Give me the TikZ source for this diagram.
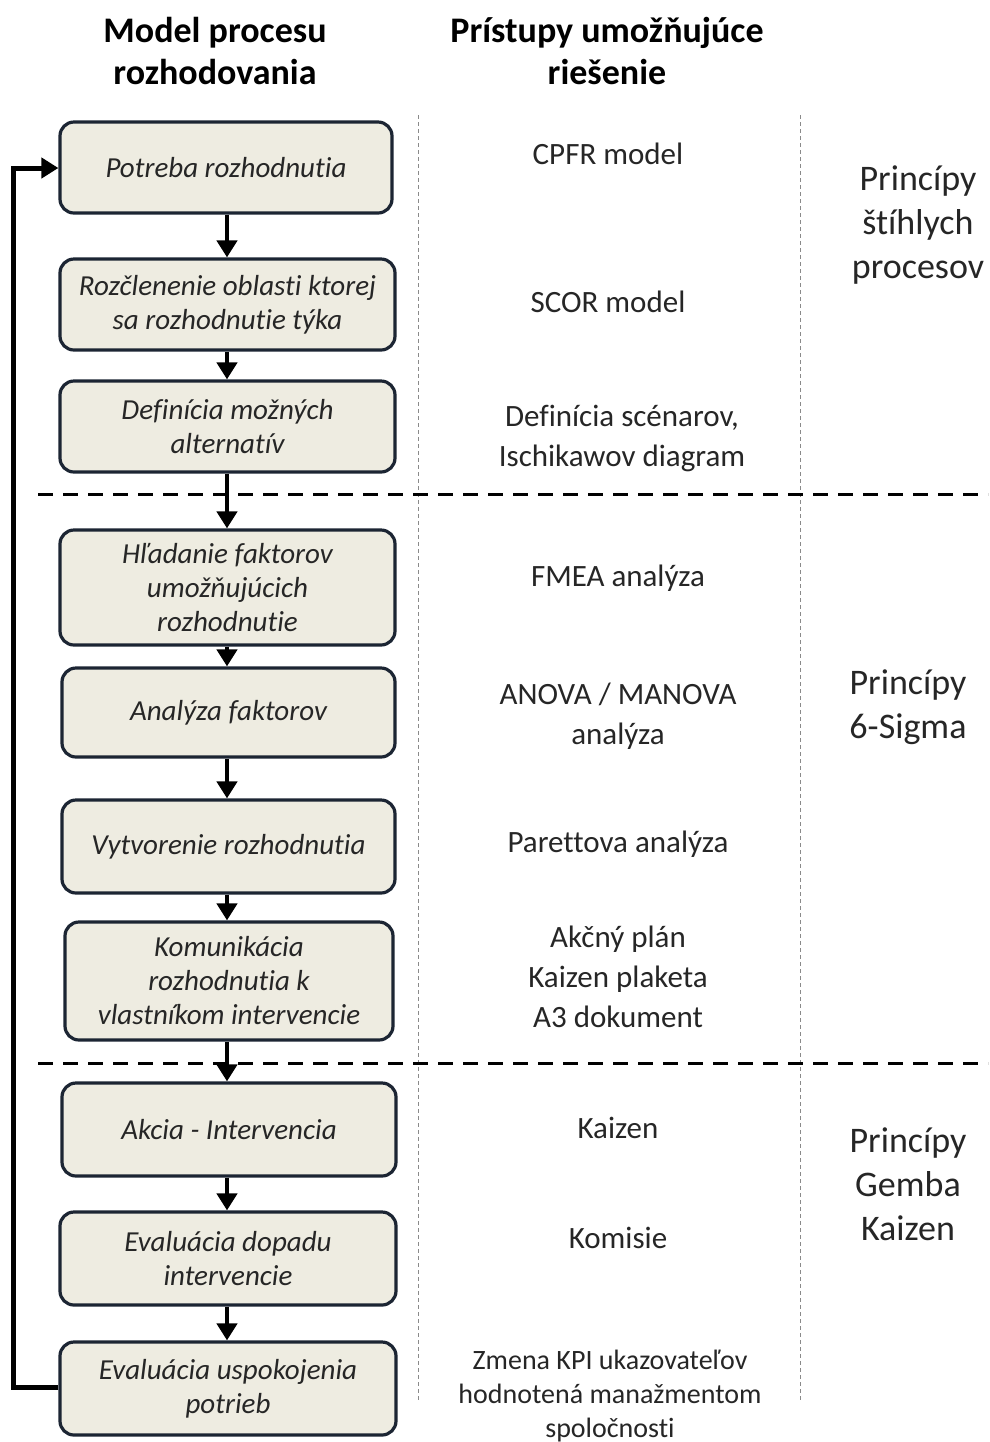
\documentclass[tikz,border=0pt]{standalone}
\usepackage{fontspec}
\setmainfont{Carlito}[Ligatures=NoCommon]
\usetikzlibrary{arrows.meta}
\definecolor{boxfill}{HTML}{EEECE1}
\definecolor{boxline}{HTML}{1C2533}
\definecolor{textgrey}{HTML}{262626}
\definecolor{sepgrey}{HTML}{8A8A8A}
\tikzset{
  stepbox/.style={draw=boxline, line width=1.6pt, fill=boxfill, rounded corners=7pt,
    align=center, inner sep=2pt, text=textgrey,
    font=\fontsize{14.5}{17}\selectfont\itshape},
  flow/.style={line width=2.2pt, -{Triangle[width=10pt,length=8.5pt]}},
  header/.style={align=center, inner sep=0pt, font=\fontsize{18}{21}\selectfont\bfseries},
  method/.style={align=center, inner sep=0pt, text=textgrey, font=\fontsize{15.5}{20}\selectfont},
  methodsmall/.style={align=center, inner sep=0pt, text=textgrey, font=\fontsize{14}{17}\selectfont},
  principle/.style={align=center, inner sep=0pt, text=textgrey, font=\fontsize{18}{22}\selectfont},
  colsep/.style={draw=sepgrey, line width=0.5pt, dash pattern=on 2pt off 1.5pt},
  phasesep/.style={draw=black, line width=1.5pt, dash pattern=on 7.5pt off 5pt},
}
\begin{document}
\begin{tikzpicture}[x=0.5pt,y=-0.5pt]
\useasboundingbox[fill=white] (0,0) rectangle (990,1442);

% column separators
\coordinate (c1t) at (418,115); \coordinate (c1b) at (418,1400);
\coordinate (c2t) at (800,115); \coordinate (c2b) at (800,1400);
\draw[colsep] (c1t) -- (c1b);
\draw[colsep] (c2t) -- (c2b);

% phase separators
\coordinate (p1l) at (38,494);  \coordinate (p1r) at (988,494);
\coordinate (p2l) at (38,1063); \coordinate (p2r) at (988,1063);
\draw[phasesep] (p1l) -- (p1r);
\draw[phasesep] (p2l) -- (p2r);

% headings
\node[header] (h1) at (215,51) {Model procesu\\rozhodovania};
\node[header] (h2) at (607,51) {Prístupy umožňujúce\\riešenie};

% decision process steps
\node[stepbox, minimum width=166pt, minimum height=45.5pt] (b1) at (226,167.5) {Potreba rozhodnutia};
\node[stepbox, minimum width=167.5pt, minimum height=45.5pt] (b2) at (227.5,304.5) {Rozčlenenie oblasti ktorej\\sa rozhodnutie týka};
\node[stepbox, minimum width=167.5pt, minimum height=45.5pt] (b3) at (227.5,426.5) {Definícia možných\\alternatív};
\node[stepbox, minimum width=167.5pt, minimum height=57.5pt] (b4) at (227.5,587.5) {Hľadanie faktorov\\umožňujúcich\\rozhodnutie};
\node[stepbox, minimum width=166.5pt, minimum height=44.5pt] (b5) at (228.5,712.5) {Analýza faktorov};
\node[stepbox, minimum width=166.5pt, minimum height=46.5pt] (b6) at (228.5,846.5) {Vytvorenie rozhodnutia};
\node[stepbox, minimum width=164pt, minimum height=59pt] (b7) at (229,981) {Komunikácia\\rozhodnutia k\\vlastníkom intervencie};
\node[stepbox, minimum width=167pt, minimum height=46.5pt] (b8) at (229,1129.5) {Akcia - Intervencia};
\node[stepbox, minimum width=168pt, minimum height=46.5pt] (b9) at (228,1258.5) {Evaluácia dopadu\\intervencie};
\node[stepbox, minimum width=168pt, minimum height=46.5pt] (b10) at (228,1388.5) {Evaluácia uspokojenia\\potrieb};

% flow between steps
\foreach \a/\b in {b1/b2,b2/b3,b3/b4,b4/b5,b5/b6,b6/b7,b7/b8,b8/b9,b9/b10}
  \draw[flow] (\a.south -| 227,0) -- (\b.north -| 227,0);

% feedback loop
\coordinate (fbB) at (13,1387);
\coordinate (fbT) at (13,168);
\draw[line width=2.5pt, -{Triangle[width=10pt,length=8.5pt]}]
  (b10.west |- fbB) -- (fbB) -- (fbT) -- (b1.west |- fbT);

% supporting approaches
\node[method] (m1) at (608,154) {CPFR model};
\node[method] (m2) at (608,302) {SCOR model};
\node[method] (m3) at (622,438) {Definícia scénarov,\\Ischikawov diagram};
\node[method] (m4) at (618,578) {FMEA analýza};
\node[method] (m5) at (618,716) {ANOVA / MANOVA\\analýza};
\node[method] (m6) at (618,844) {Parettova analýza};
\node[method] (m7) at (618,977) {Akčný plán\\Kaizen plaketa\\A3 dokument};
\node[method] (m8) at (618,1128) {Kaizen};
\node[method] (m9) at (618,1238) {Komisie};
\node[methodsmall] (m10) at (610,1396) {Zmena KPI ukazovateľov\\hodnotená manažmentom\\spoločnosti};

% principles
\node[principle] (r1) at (918,225) {Princípy\\štíhlych\\procesov};
\node[principle] (r2) at (908,707) {Princípy\\6-Sigma};
\node[principle] (r3) at (908,1184) {Princípy\\Gemba\\Kaizen};
\end{tikzpicture}
\end{document}
